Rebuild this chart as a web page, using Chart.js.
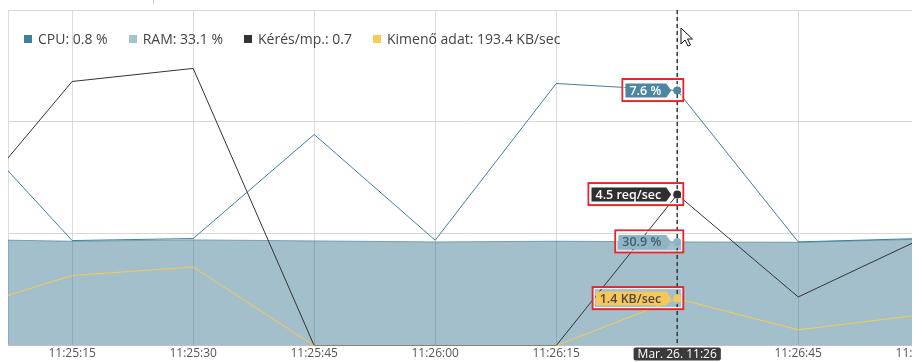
<!DOCTYPE html>
<html>
<head>
<meta charset="utf-8">
<script src="https://cdn.jsdelivr.net/npm/chart.js@4.4.1/dist/chart.umd.min.js"></script>
<style>
body{margin:0;background:#fff;font-family:"Open Sans",sans-serif;}
#wrap{position:relative;width:912px;height:362px;overflow:hidden;}
#box{position:absolute;left:0;top:0;width:944px;height:362px;}
#legend{position:absolute;left:24px;top:30px;display:flex;font-size:14px;color:#444;line-height:17px;white-space:nowrap;}
#legend .item{display:flex;align-items:center;margin-right:21px;}
#legend i{display:inline-block;width:8px;height:8px;margin-right:6px;}
#topline{position:absolute;left:153px;top:0;width:1px;height:4px;background:#ccc;}
</style>
</head>
<body>
<div id="wrap">
  <div id="box"><canvas id="myChart"></canvas></div>
  <div id="legend"></div>
  <div id="topline"></div>
</div>
<script>
// samples every 15 s
var times = ["11:25:00", "11:25:15", "11:25:30", "11:25:45", "11:26:00", "11:26:15", "11:26:30", "11:26:45", "11:27:00"];
var cpu = [7.05, 3.13, 3.19, 6.29, 3.14, 7.81, 7.6, 3.09, 3.19];
var ram = [31.7, 31.1, 31.5, 31.2, 30.9, 31.1, 30.9, 30.8, 31.7];
var req = [3.57, 7.87, 8.26, 0, 0, 0, 4.5, 1.45, 3.15];
var kb = [0.97, 2.09, 2.34, 0, 0, 0, 1.4, 0.47, 0.91];

var tickTimes = ["11:25:15", "11:25:30", "11:25:45", "11:26:00", "11:26:15", "11:26:30", "11:26:45", "11:27:00"];
var seriesNames = ["CPU", "RAM", "Kérés/mp.", "Kimenő adat"];
var currentValues = ["0.8 %", "33.1 %", "0.7", "193.4 KB/sec"];
var units = [" %", " %", " req/sec", " KB/sec"];
var hoverTime = "11:26:30";
var hoverLabel = "Mar. 26. 11:26";
var viewStart = "11:25:07";

var colors = ["#3f8199", "#a3c3cf", "#333333", "#f7c955"];
var tagFill = ["#4a87a2", "#8fb4c5", "#2f2f2f", "#f8c75b"];
var tagText = ["#ffffff", "#44606c", "#ffffff", "#4a4a4a"];

function secs(t){
    var p = t.split(":");
    return (+p[0]) * 3600 + (+p[1]) * 60 + (+p[2]) - (11 * 3600 + 25 * 60);
}
function fmtTime(s){
    var total = 11 * 3600 + 25 * 60 + s;
    var h = Math.floor(total / 3600), m = Math.floor(total / 60) % 60, sec = Math.round(total % 60);
    function two(n){ return (n < 10 ? "0" : "") + n; }
    return h + ":" + two(m) + ":" + two(sec);
}
function pts(values){
    return values.map(function(v, i){ return {x: secs(times[i]), y: v}; });
}

var hoverIdx = times.indexOf(hoverTime);

// legend as html over the plot
var legend = document.getElementById("legend");
seriesNames.forEach(function(name, i){
    var el = document.createElement("span");
    el.className = "item";
    el.innerHTML = '<i style="background:' + colors[i] + '"></i>' + name + ": " + currentValues[i];
    legend.appendChild(el);
});

var hoverPlugin = {
    id: "hover",
    afterDatasetsDraw: function(chart){
        var ctx = chart.ctx, area = chart.chartArea;
        var x = chart.scales.x.getPixelForValue(secs(hoverTime));
        ctx.save();
        ctx.strokeStyle = "#3a3a3a";
        ctx.lineWidth = 1.5;
        ctx.setLineDash([4, 3]);
        ctx.beginPath();
        ctx.moveTo(x, area.top);
        ctx.lineTo(x, area.bottom);
        ctx.stroke();
        ctx.setLineDash([]);

        ctx.font = '600 12.5px "Open Sans"';
        ctx.textAlign = "right";
        ctx.textBaseline = "middle";
        chart.data.datasets.forEach(function(ds, i){
            var pt = chart.getDatasetMeta(i).data[hoverIdx];
            var y = pt.y;
            var label = ds.data[hoverIdx].y.toFixed(1) + units[i];
            var tw = ctx.measureText(label).width;
            var tip = pt.x - 6, right = tip - 5, h = 14;
            var left = right - tw - 9;
            ctx.fillStyle = tagFill[i];
            ctx.beginPath();
            ctx.moveTo(left, y - h / 2);
            ctx.lineTo(right, y - h / 2);
            ctx.lineTo(tip, y);
            ctx.lineTo(right, y + h / 2);
            ctx.lineTo(left, y + h / 2);
            ctx.closePath();
            ctx.fill();
            ctx.fillStyle = tagText[i];
            ctx.fillText(label, right - 5, y + 0.5);

            ctx.fillStyle = tagFill[i];
            ctx.beginPath();
            ctx.arc(pt.x, y, 4, 0, Math.PI * 2);
            ctx.fill();

            // highlight boxes
            var bx = left - 3, bw = pt.x + 6 - bx;
            ctx.strokeStyle = "#e8242a";
            ctx.lineWidth = 2;
            ctx.strokeRect(bx, y - 11.5, bw, 22);
            ctx.strokeStyle = "#ffffff";
            ctx.lineWidth = 1;
            ctx.strokeRect(bx + 1.5, y - 10, bw - 3, 19);
        });

        // time label under the crosshair
        ctx.font = '12px "Open Sans"';
        ctx.textAlign = "center";
        var lw = ctx.measureText(hoverLabel).width + 8;
        ctx.fillStyle = "#3a3a3a";
        ctx.beginPath();
        ctx.roundRect(x - lw / 2, area.bottom + 2, lw, 13, 2);
        ctx.fill();
        ctx.fillStyle = "#ffffff";
        ctx.fillText(hoverLabel, x, area.bottom + 8.7);

        // mouse pointer
        var cx = 681, cy = 28;
        ctx.beginPath();
        ctx.moveTo(cx, cy);
        ctx.lineTo(cx, cy + 16);
        ctx.lineTo(cx + 4, cy + 12);
        ctx.lineTo(cx + 7, cy + 18);
        ctx.lineTo(cx + 9.5, cy + 17);
        ctx.lineTo(cx + 6.5, cy + 11);
        ctx.lineTo(cx + 11.5, cy + 11);
        ctx.closePath();
        ctx.fillStyle = "#fff";
        ctx.fill();
        ctx.strokeStyle = "#111";
        ctx.lineWidth = 1;
        ctx.stroke();
        ctx.restore();
    }
};

var ctx = document.getElementById("myChart").getContext("2d");
var myChart = new Chart(ctx, {
    type: "line",
    data: {
        datasets: [
            {label: seriesNames[0], data: pts(cpu), borderColor: colors[0], borderWidth: 1, pointRadius: 0, yAxisID: "y", order: 1},
            {label: seriesNames[1], data: pts(ram), borderColor: "rgba(40,105,135,0.55)", backgroundColor: "rgba(25,95,125,0.4)", borderWidth: 1, pointRadius: 0, fill: "origin", yAxisID: "yRam", order: 5},
            {label: seriesNames[2], data: pts(req), borderColor: colors[2], borderWidth: 1, pointRadius: 0, yAxisID: "y", order: 2},
            {label: seriesNames[3], data: pts(kb), borderColor: colors[3], borderWidth: 1, pointRadius: 0, yAxisID: "y", order: 3}
        ]
    },
    options: {
        responsive: true,
        maintainAspectRatio: false,
        animation: false,
        events: [],
        layout: {padding: {left: 8, top: 10, right: 0, bottom: 0}},
        plugins: {legend: {display: false}, tooltip: {enabled: false}},
        scales: {
            x: {
                type: "linear",
                min: secs(viewStart) + 0.05,
                max: secs(tickTimes[tickTimes.length - 1]),
                afterBuildTicks: function(scale){
                    scale.ticks = tickTimes.map(function(t){ return {value: secs(t)}; });
                },
                ticks: {
                    autoSkip: false, maxRotation: 0, padding: 1, color: "#555",
                    font: {family: "Open Sans", size: 12},
                    callback: function(v){ return fmtTime(v); }
                },
                grid: {color: "#dcdcdc", drawTicks: false},
                border: {color: "#c8c8c8"}
            },
            y: {
                min: 0, max: 10,
                afterBuildTicks: function(scale){
                    scale.ticks = [0, 10 / 3, 20 / 3, 10].map(function(v){ return {value: v}; });
                },
                ticks: {display: false},
                grid: {color: "#d8d8d8", drawTicks: false},
                border: {color: "#dcdcdc"}
            },
            yRam: {min: 0, max: 100, display: false}
        }
    },
    plugins: [hoverPlugin]
});
</script>
</body>
</html>
